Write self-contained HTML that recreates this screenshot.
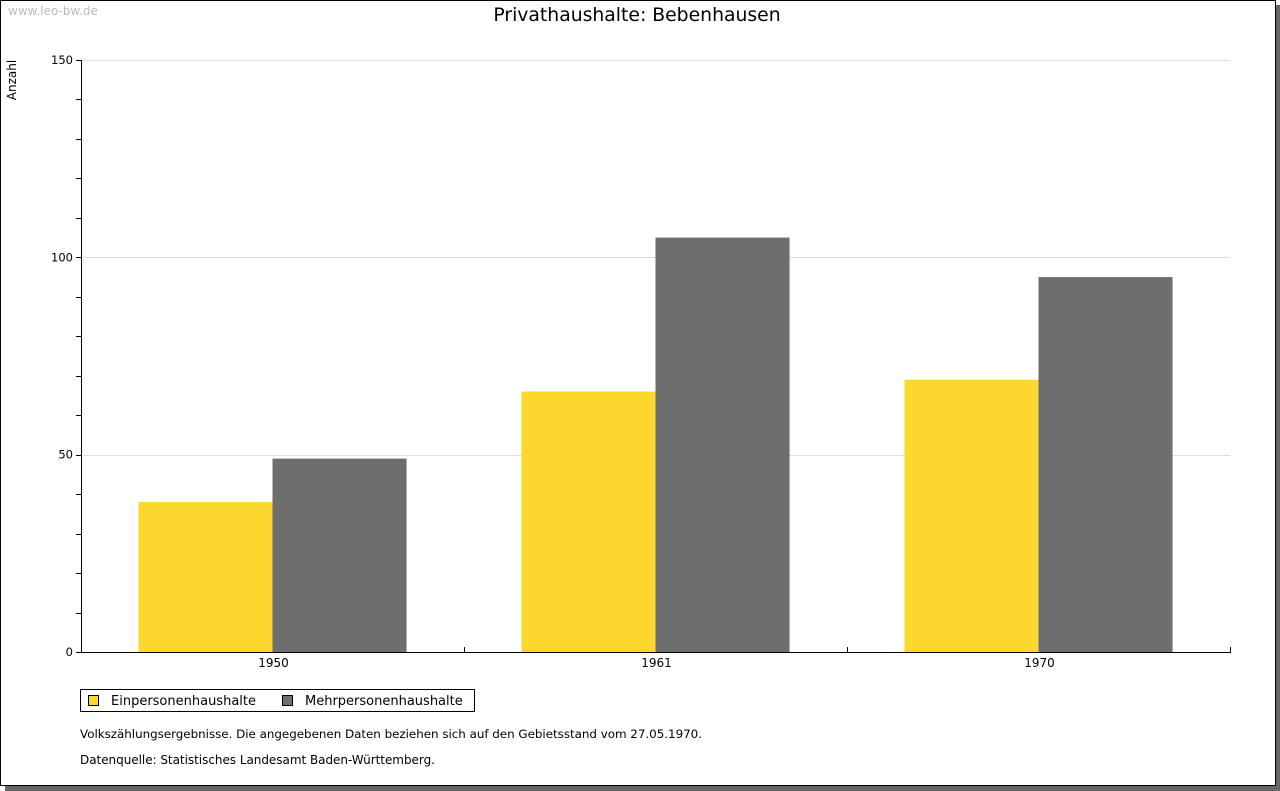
<!DOCTYPE html>
<html><head><meta charset="utf-8"><style>
html,body{margin:0;padding:0;background:#fff;}
svg{display:block;font-family:"DejaVu Sans","Liberation Sans",sans-serif;}
</style></head><body>
<svg id="chart" width="1280" height="791" xmlns="http://www.w3.org/2000/svg">
<rect x="5" y="5" width="1275" height="786" fill="#666"/>
<rect x="0.5" y="0.5" width="1275" height="785" fill="#fff" stroke="#000"/>
<text x="8" y="15" font-size="12" fill="#bbb">www.leo-bw.de</text>
<text x="637" y="21" font-size="18.8" text-anchor="middle" fill="#000">Privathaushalte: Bebenhausen</text>
<text transform="translate(16,80) rotate(-90)" font-size="12" text-anchor="middle">Anzahl</text>
<g id="grid"></g><g id="bars"></g><g id="axes"></g>
<g>
<rect x="80.5" y="689.5" width="394" height="22" fill="#fff" stroke="#000"/>
<rect x="88.5" y="695.5" width="10" height="10" fill="#fcd72e" stroke="#000"/>
<text x="111" y="705" font-size="13">Einpersonenhaushalte</text>
<rect x="282.5" y="695.5" width="10" height="10" fill="#6e6e6e" stroke="#000"/>
<text x="305" y="705" font-size="13">Mehrpersonenhaushalte</text>
</g>
<text x="80" y="738" font-size="11.9" textLength="622">Volkszählungsergebnisse. Die angegebenen Daten beziehen sich auf den Gebietsstand vom 27.05.1970.</text>
<text x="80" y="764" font-size="12" textLength="355">Datenquelle: Statistisches Landesamt Baden-Württemberg.</text>
</svg>
<script>
const categories = ["1950","1961","1970"];
const einValues = [38,66,69];
const mehrValues = [49,105,95];
const yTickLabels = [0,50,100,150];
const NS="http://www.w3.org/2000/svg";
const X0=81,X1=1230,Y0=652,Y1=60,YMAX=150;
const y=v=>Y0-(v/YMAX)*(Y0-Y1);
const cw=(X1-X0)/categories.length;
const xc=i=>X0+cw*(i+0.5);
function mk(t,a,p){const e=document.createElementNS(NS,t);for(const k in a)e.setAttribute(k,a[k]);p.appendChild(e);return e;}
const grid=document.getElementById('grid'),bars=document.getElementById('bars'),axes=document.getElementById('axes');
yTickLabels.forEach(v=>{
  if(v>0){const g=mk('line',{x1:X0,x2:X1,y1:Math.round(y(v))+0.5,y2:Math.round(y(v))+0.5,stroke:'#ddd'},grid);
  
  }
  const t=mk('text',{x:X0-8,y:y(v)+4,'font-size':11.5,'text-anchor':'end'},axes);t.textContent=v;
  
  
});
for(let v=0;v<=YMAX;v+=10){const l=mk('line',{x1:X0-5,x2:X0,y1:Math.round(y(v))+0.5,y2:Math.round(y(v))+0.5,stroke:'#000'},axes);
  
  }
const bw=cw*0.35;
categories.forEach((c,i)=>{
  const a=mk('rect',{x:xc(i)-bw,y:y(einValues[i]),width:bw,height:Y0-y(einValues[i]),fill:'#fcd72e'},bars);
  
  
  const b=mk('rect',{x:xc(i),y:y(mehrValues[i]),width:bw,height:Y0-y(mehrValues[i]),fill:'#6e6e6e'},bars);
  
  
  const t=mk('text',{x:xc(i)+1,y:Y0+15,'font-size':12,'text-anchor':'middle'},axes);t.textContent=c;
  
  
});
for(let i=0;i<=categories.length;i++){const xx=Math.round(X0+cw*i)+0.5;
  const l=mk('line',{x1:xx,x2:xx,y1:Y0-5,y2:Y0,stroke:'#000'},axes);
  
  }
const ya=mk('line',{x1:X0+0.5,x2:X0+0.5,y1:Y1,y2:Y0+0.5,stroke:'#000'},axes);


const xa=mk('line',{x1:X0,x2:X1+1,y1:Y0+0.5,y2:Y0+0.5,stroke:'#000'},axes);


</script>
</body></html>
